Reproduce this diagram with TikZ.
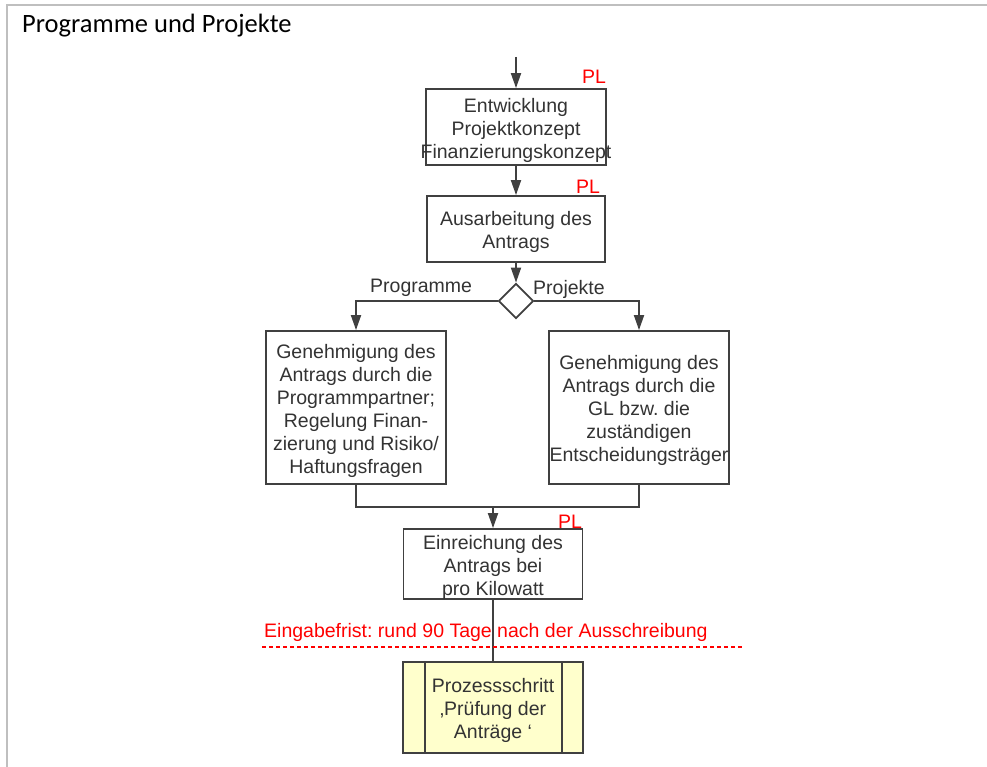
\documentclass[tikz,border=0pt]{standalone}
\usepackage{fontspec}
\setmainfont{Liberation Sans}
\newfontfamily\titlefont{Carlito}
\usetikzlibrary{arrows.meta,shapes.geometric}
\definecolor{ink}{HTML}{404040}
\definecolor{txt}{HTML}{333333}
\definecolor{framegray}{HTML}{BFBFBF}
\definecolor{note}{HTML}{FF0000}
\definecolor{pale}{HTML}{FFFFCC}
\frenchspacing
\begin{document}
\begin{tikzpicture}[x=1pt,y=-1pt,
  every node/.style={font=\fontsize{19.5}{23}\selectfont, text=txt},
  stepbox/.style={draw=ink, line width=1.8pt, fill=white, inner sep=0pt},
  boxtext/.style={label={[align=center, inner sep=0pt, yshift=-3pt]center:{#1}}},
  flow/.style={draw=ink, line width=1.8pt, -{Triangle[length=15pt,width=10pt]}},
  link/.style={draw=ink, line width=1.8pt},
  role/.style={text=note, anchor=base west, inner sep=0pt},
  branch/.style={anchor=base west, inner sep=0pt},
]
\useasboundingbox (0,0) rectangle (987,767);

% outer frame
\draw[framegray, line width=2pt] (7,767) -- (7,5.5) -- (987,5.5);
\node[anchor=base west, inner sep=0pt, text=black, font=\titlefont\fontsize{26.5}{30}\selectfont]
  (title) at (22,33) {Programme und Projekte};

% process steps
\coordinate (start) at (516,57);
\node[stepbox, minimum width=180pt, minimum height=76pt,
  boxtext={Entwicklung\\Projektkonzept\\Finanzierungskonzept}] (dev) at (516,127) {};
\node[stepbox, minimum width=178pt, minimum height=66pt,
  boxtext={Ausarbeitung des\\Antrags}] (draft) at (516,229) {};
\node[draw=ink, line width=1.8pt, fill=white, shape=diamond, inner sep=0pt,
  minimum width=35pt, minimum height=35pt] (choice) at (516,301) {};
\node[stepbox, minimum width=180pt, minimum height=153pt,
  boxtext={Genehmigung des\\Antrags durch die\\Programmpartner;\\Regelung Finan-\\zierung und Risiko/\\Haftungsfragen}]
  (prog) at (356,407.5) {};
\node[stepbox, minimum width=180pt, minimum height=153pt,
  boxtext={Genehmigung des\\Antrags durch die\\GL bzw. die\\zuständigen\\Entscheidungsträger}]
  (proj) at (639,407.5) {};
\node[stepbox, minimum width=179pt, minimum height=70pt,
  boxtext={Einreichung des\\Antrags bei\\pro Kilowatt}] (submit) at (493,564) {};

% connectors
\draw[flow] (start) -- (dev);
\draw[flow] (dev) -- (draft);
\draw[flow] (draft) -- (choice);
\draw[flow] (choice.west) -| (prog.north);
\draw[flow] (choice.east) -| (proj.north);
\coordinate (merge) at (493,507);
\draw[link] (prog.south) |- (merge) -| (proj.south);
\draw[flow] (merge) -- (submit);

% deadline and next process step
\draw[link] (submit) -- (493,662);
\node[stepbox, fill=pale, minimum width=180pt, minimum height=91pt,
  boxtext={Prozessschritt\\‚Prüfung der\\Anträge ‘}] (check) at (493,707.5) {};
\draw[link] ([xshift=23pt]check.north west) -- ([xshift=23pt]check.south west);
\draw[link] ([xshift=-22pt]check.north east) -- ([xshift=-22pt]check.south east);
\draw[note, line width=1.3pt, dash pattern=on 4pt off 3pt] (262,647) -- (744,647);
\node[role] (deadline) at (264,637) {Eingabefrist: rund 90 Tage nach der Ausschreibung};

% branch labels
\node[branch] (lprog) at (370,292) {Programme};
\node[branch] (lproj) at (533,294) {Projekte};

% responsibility marks
\node[role] (pl1) at (582,84) {PL};
\node[role] (pl2) at (576,194) {PL};
\node[role] (pl3) at (558,528) {PL};
\end{tikzpicture}
\end{document}
